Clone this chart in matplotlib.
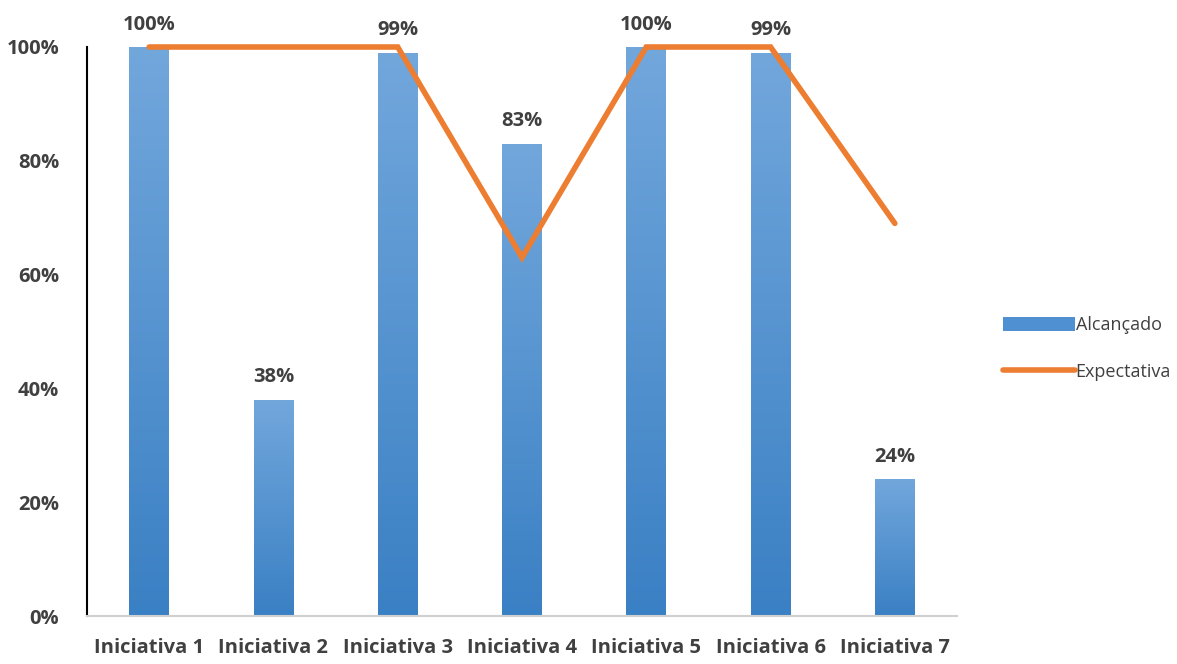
import numpy as np
import matplotlib.pyplot as plt
from matplotlib.patches import Patch
from matplotlib.lines import Line2D
from matplotlib.colors import LinearSegmentedColormap

categorias = ['Iniciativa 1', 'Iniciativa 2', 'Iniciativa 3', 'Iniciativa 4',
              'Iniciativa 5', 'Iniciativa 6', 'Iniciativa 7']
alcancado = [1.00, 0.38, 0.99, 0.83, 1.00, 0.99, 0.24]
expectativa = [1.00, 1.00, 1.00, 0.63, 1.00, 1.00, 0.69]
rotulos = ['100%', '38%', '99%', '83%', '100%', '99%', '24%']
yticks = [0, 0.2, 0.4, 0.6, 0.8, 1.0]
ytick_labels = ['0%', '20%', '40%', '60%', '80%', '100%']

plt.rcParams['font.family'] = ['Open Sans', 'DejaVu Sans']
cinza = '#404040'
azul_claro = '#72a7dc'
azul_escuro = '#3a80c4'
laranja = '#ED7D31'

fig = plt.figure(figsize=(11.77, 6.64), dpi=100)
ax = fig.add_axes([87 / 1177, 48 / 664, 870 / 1177, 569 / 664])

x = np.arange(len(categorias))
bars = ax.bar(x, alcancado, width=0.32, color=azul_escuro, zorder=2)

# gradiente vertical nas barras
grad = np.linspace(0, 1, 256).reshape(-1, 1)
cmap = LinearSegmentedColormap.from_list('g', [azul_escuro, azul_claro])
for b in bars:
    x0, w, h = b.get_x(), b.get_width(), b.get_height()
    im = ax.imshow(grad, cmap=cmap, origin='lower', aspect='auto',
                   extent=[x0, x0 + w, 0, h], zorder=2.1)
    im.set_clip_path(b)

ax.plot(x, expectativa, color=laranja, lw=4, solid_capstyle='round',
        solid_joinstyle='miter', zorder=3, clip_on=False)

for xi, v, r in zip(x, alcancado, rotulos):
    ax.annotate(r, (xi, v), xytext=(0, 9), textcoords='offset points',
                ha='center', va='bottom', fontsize=14.5, fontweight='bold',
                color=cinza, annotation_clip=False)

ax.set_xlim(-0.5, 6.5)
ax.set_ylim(0, 1.0)
ax.set_xticks(x)
ax.set_xticklabels(categorias, fontsize=14.5, fontweight='bold', color=cinza)
ax.set_yticks(yticks)
ax.set_yticklabels(ytick_labels, fontsize=14.5, fontweight='bold', color=cinza)
ax.tick_params(axis='x', length=0, pad=16)
ax.tick_params(axis='y', length=0, pad=20)

for s in ['top', 'right']:
    ax.spines[s].set_visible(False)
ax.spines['left'].set_color('black')
ax.spines['left'].set_linewidth(1.5)
ax.spines['bottom'].set_color('#d0d0d0')
ax.spines['bottom'].set_linewidth(1.5)

handles = [Patch(facecolor='#4f90d2', edgecolor='none'),
           Line2D([0], [0], color=laranja, lw=4, solid_capstyle='round')]
leg = fig.legend(handles, ['Alcançado', 'Expectativa'], loc='center left',
                 bbox_to_anchor=(0.838, 0.475), frameon=False, fontsize=13,
                 labelcolor=cinza, handlelength=4.0, handleheight=0.8,
                 handletextpad=0.05, labelspacing=1.6)

fig.savefig('out.png', dpi=100)
